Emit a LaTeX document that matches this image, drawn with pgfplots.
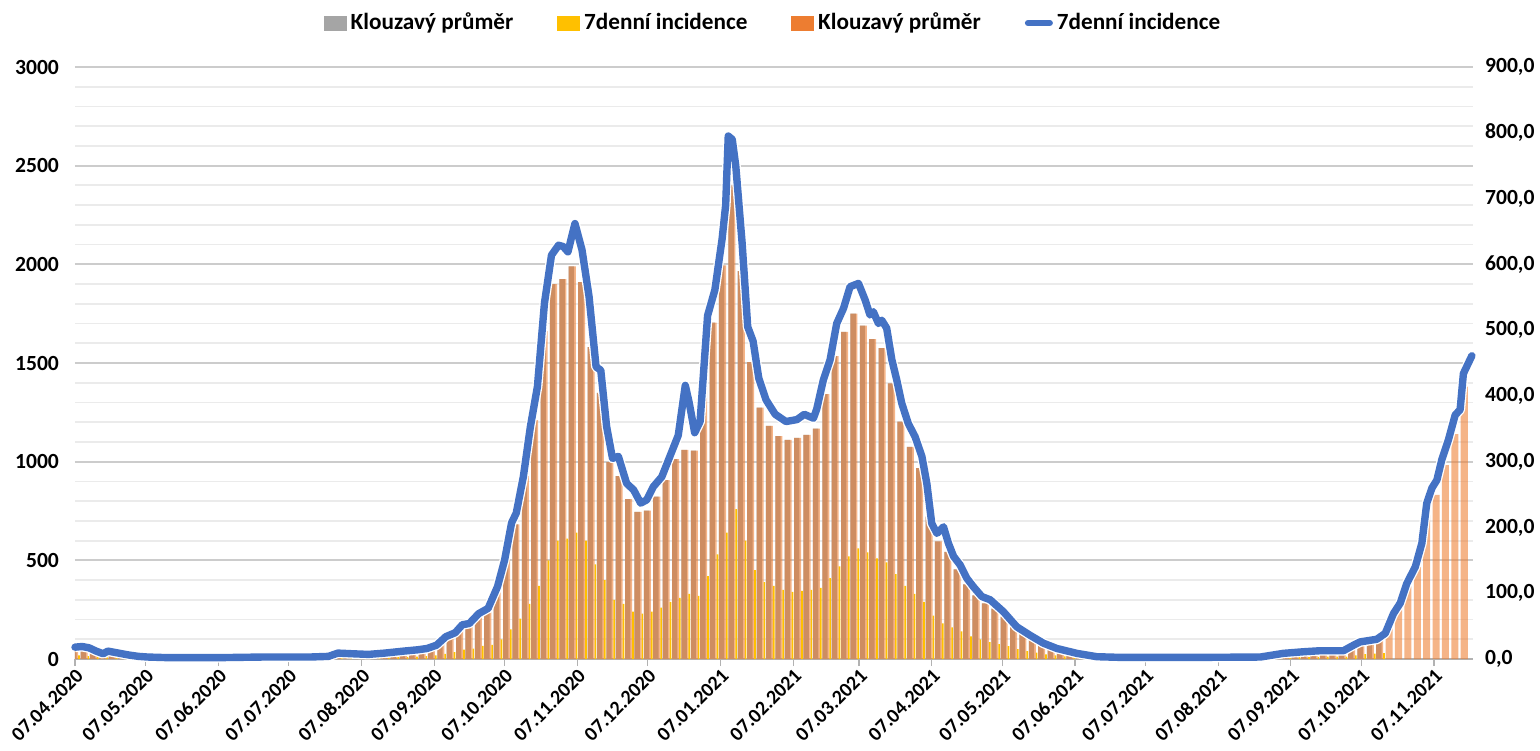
\documentclass[border=0pt]{standalone}
\usepackage{fontspec}
\setmainfont{Carlito}
\usepackage{pgfplots}
\usepackage{pgfplotstable}
\pgfplotsset{compat=1.18}
\definecolor{cgray}{HTML}{A5A5A5}
\definecolor{cyel}{HTML}{FFC000}
\definecolor{cora}{HTML}{ED7D31}
\definecolor{cblue}{HTML}{4472C4}

\pgfplotstableread{
d avg gry yel
0 55 55 18
4 58 58 15
8 40 40 12
12 25 25 8
16 34 34 9
20 25 25 7
24 18 18 5
28 12 12 4
32 9 9 3
36 8 8 2
40 8 8 2
44 7 7 2
48 7 7 2
52 8 8 2
56 8 8 2
60 7 7 2
64 7 7 2
68 8 8 2
72 8 8 2
76 9 9 3
80 9 9 3
84 9 9 3
88 8 8 2
92 8 8 2
96 9 9 3
100 9 9 3
104 10 10 3
108 12 12 4
112 28 28 8
116 25 25 8
120 24 24 7
124 22 22 6
128 25 25 7
132 28 28 8
136 31 31 10
140 37 37 11
144 40 40 12
148 46 46 15
152 55 55 18
156 83 83 26
160 114 114 35
164 150 150 48
168 166 166 52
172 212 212 66
176 236 236 72
180 338 338 100
184 507 507 150
188 682 682 205
192 927 927 280
196 1210 1210 370
200 1661 1661 500
204 1900 1900 600
208 1925 1925 610
212 1990 1990 640
216 1910 1910 600
220 1581 1581 480
224 1348 1348 400
228 998 998 300
232 927 927 280
236 810 810 240
240 746 746 230
244 752 752 240
248 823 823 260
252 906 906 290
256 1013 1013 310
260 1060 1060 330
264 1056 1056 320
268 1380 1380 420
272 1704 1704 530
276 1995 1995 640
280 2400 2400 760
284 1965 1965 600
288 1504 1504 450
292 1274 1274 390
296 1182 1182 370
300 1130 1130 350
304 1111 1111 340
308 1120 1120 345
312 1136 1136 350
316 1167 1167 360
320 1342 1342 410
324 1535 1535 470
328 1658 1658 520
332 1750 1750 560
336 1690 1690 540
340 1621 1621 510
344 1575 1575 490
348 1397 1397 430
352 1203 1203 370
356 1075 1075 330
360 967 967 290
364 721 721 220
368 596 596 180
372 543 543 160
376 454 454 140
380 378 378 115
384 322 322 100
388 282 282 85
392 255 255 75
396 215 215 65
400 163 163 50
404 129 129 40
408 104 104 32
412 77 77 24
416 58 58 18
420 43 43 13
424 31 31 10
428 25 25 8
432 15 15 5
436 11 11 4
440 8 8 2
444 8 8 2
448 8 8 2
452 8 8 2
456 8 8 2
460 8 8 2
464 8 8 2
468 8 8 2
472 8 8 2
476 8 8 2
480 8 8 2
484 8 8 2
488 8 8 2
492 8 8 2
496 8 8 2
500 8 8 2
504 8 8 2
508 9 9 2
512 18 18 5
516 28 28 8
520 31 31 10
524 34 34 10
528 37 37 11
532 39 39 12
536 39 39 12
540 39 39 12
544 58 58 18
548 80 80 25
552 86 86 27
556 101 101 30
560 169 nan nan
564 252 nan nan
568 368 nan nan
572 467 nan nan
576 731 nan nan
580 832 nan nan
584 982 nan nan
588 1139 nan nan
592 1380 nan nan
}\bars

\pgfplotstableread{
d v
0 18
3 19
6 17
9 12
12 8
14 12
17 10
20 8
23 6
27 4
31 3
40 2
60 2
80 3
100 3
108 4
112 9
118 8
125 7
132 9
140 12
146 14
150 16
154 21
158 34
162 40
165 52
168 54
172 69
176 77
180 110
183 150
186 207
188 222
191 277
194 353
197 414
200 541
203 614
206 629
208 627
210 619
213 662
216 622
219 551
222 444
224 439
226.5 353
229 305
231.5 308
235 267
238 257
241 237
243.6 242
246.4 262
250 277
254 313
257 340
260 416
261.7 389
264 344
266.3 361
269.5 522
272.6 561
275.7 639
277.2 690
278.3 795
280 790
281.5 750
284.2 633
286.6 505
288.9 483
291.3 427
294.4 394
298.3 372
302.9 361
307.6 364
310.7 372
314.6 366
316 380
318.8 424
321.7 455
324.5 510
327.4 533
330.2 566
333.8 571
336.6 546
338.7 523
340.1 528
342.3 510
343.7 515
345.8 503
348 455
350.1 424
352.2 389
355 358
357.9 338
360.8 308
362.9 267
365 206
367.2 191
370 201
372.1 176
374.3 156
377.1 143
379.9 123
382.7 110
386.3 95
389.9 90
395.5 72
401.2 49
406.9 36
412.6 24
418.3 16
426.8 8.6
435.3 3.5
445 2.5
480 2.5
505 3
514.8 8.6
523.3 11
530.5 12.6
540.4 12.6
544.7 21
547.5 26
554.6 30
558.2 39
561.7 69
564.6 85
567.4 115
571 140
573.8 176
575.9 237
578.1 260
580.2 272
582.3 303
585.1 333
588 371
590.1 379
591.5 434
595.1 461
}\inc

\begin{document}
\begin{tikzpicture}
\useasboundingbox (-37.5pt,-45.5pt) rectangle (732.5pt,329.5pt);
\begin{axis}[
  at={(0pt,0pt)}, anchor=south west,
  scale only axis, width=699pt, height=296pt,
  xmin=0, xmax=595.6, ymin=0, ymax=3000,
  axis lines*=left,
  y axis line style={draw=none},
  x axis line style={draw=black!30, line width=0.8pt},
  xtick={0,30,61,91,122,153,183,214,244,275,306,334,365,395,426,456,487,518,548,579},
  xticklabels={07.04.2020,07.05.2020,07.06.2020,07.07.2020,07.08.2020,07.09.2020,07.10.2020,07.11.2020,07.12.2020,07.01.2021,07.02.2021,07.03.2021,07.04.2021,07.05.2021,07.06.2021,07.07.2021,07.08.2021,07.09.2021,07.10.2021,07.11.2021},
  xtick style={draw=black!30, line width=0.6pt},
  ytick={0,500,...,3000},
  minor ytick={100,200,...,2900},
  ytick style={draw=none}, minor tick style={draw=none},
  tick align=outside, major tick length=3.5pt,
  ymajorgrids, yminorgrids,
  major grid style={draw=black!20, line width=0.9pt},
  minor grid style={draw=black!8, line width=0.9pt},
  ticklabel style={font=\bfseries\fontsize{10.8}{12}\selectfont},
  xticklabel style={font=\bfseries\fontsize{10}{12}\selectfont, rotate=45, anchor=north east, inner sep=0.5pt},
  yticklabel style={xshift=-1pt},
  /pgf/number format/1000 sep={}, /pgf/number format/assume math mode=true,
]
\addplot[ybar, bar width=2.3, bar shift=-0.5, fill=cgray, draw=none] table[x=d,y=gry]{\bars};
\addplot[ybar, bar width=3.0, bar shift=-0.15, fill=cora, fill opacity=0.58, draw=none] table[x=d,y=avg]{\bars};
\addplot[ybar, bar width=0.7, bar shift=1.7, fill=cyel, draw=none] table[x=d,y=yel]{\bars};
\end{axis}
\begin{axis}[
  at={(0pt,0pt)}, anchor=south west,
  scale only axis, width=699pt, height=296pt,
  xmin=0, xmax=595.6, ymin=0, ymax=900,
  axis x line=none, axis y line*=right,
  y axis line style={draw=none},
  ytick={0,100,...,900}, ytick style={draw=none},
  ticklabel style={font=\bfseries\fontsize{10.8}{12}\selectfont},
  yticklabel style={xshift=2.5pt, /pgf/number format/.cd, fixed, fixed zerofill, precision=1, use comma, 1000 sep={}, assume math mode=true},
  clip=false,
  legend columns=4,
  legend cell align=left,
  legend style={at={(0.5,1)}, anchor=center, yshift=22pt, draw=none, fill=none,
    font=\bfseries\fontsize{11.6}{13}\selectfont,
    /tikz/every even column/.append style={column sep=20pt}},
]
\addlegendimage{legend image code/.code={\fill[cgray] (0pt,-3.5pt) rectangle (11pt,3.5pt);}}
\addlegendentry{Klouzavý průměr}
\addlegendimage{legend image code/.code={\fill[cyel] (0pt,-3.5pt) rectangle (11pt,3.5pt);}}
\addlegendentry{7denní incidence}
\addlegendimage{legend image code/.code={\fill[cora] (0pt,-3.5pt) rectangle (11pt,3.5pt);}}
\addlegendentry{Klouzavý průměr}
\addplot[white, line width=5pt, line join=round, forget plot] table[x=d,y=v]{\inc};
\addplot[cblue, line width=3.7pt, line join=round, line cap=round,
  legend image code/.code={\draw[cblue, line width=3pt] (0pt,0pt) -- (11pt,0pt);}] table[x=d,y=v]{\inc};
\addlegendentry{7denní incidence}
\end{axis}
\end{tikzpicture}
\end{document}
